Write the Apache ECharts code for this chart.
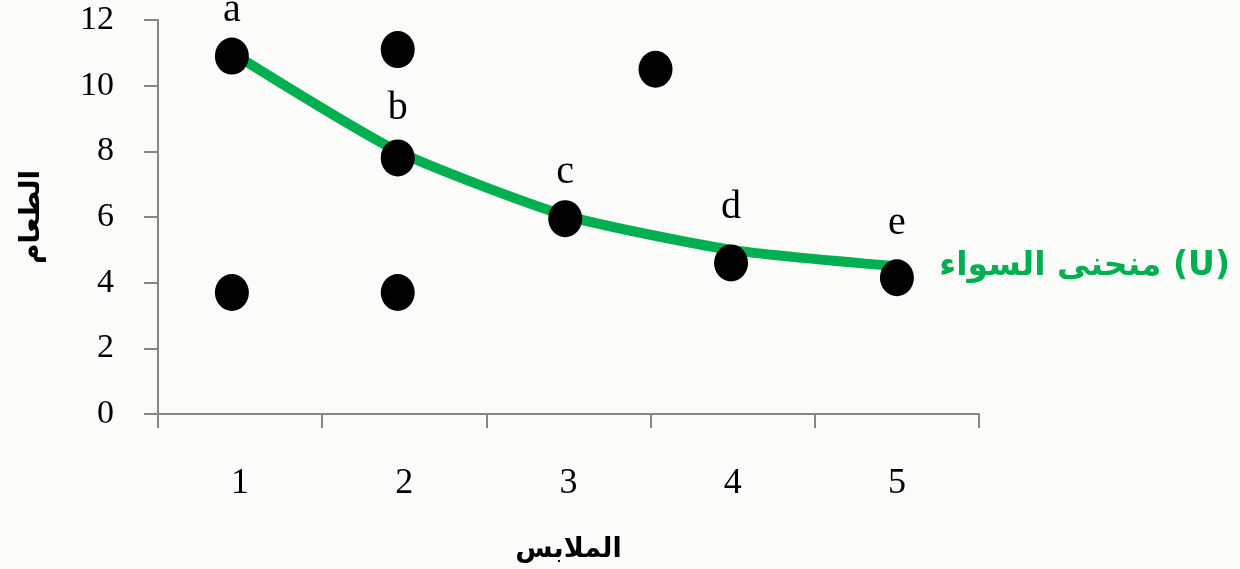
<!DOCTYPE html>
<html><head><meta charset="utf-8">
<script src="https://cdn.jsdelivr.net/npm/echarts@6/dist/echarts.min.js"></script>
<style>html,body{margin:0;padding:0;background:#fbfbfa;}#c{width:1240px;height:569px;}</style>
</head><body><div id="c"></div>
<script>
const categories = ['1','2','3','4','5'];
const yTicks = [0,2,4,6,8,10,12];
const pointX = [0.45, 1.46, 1.46, 0.45, 1.46, 2.48, 3.03, 3.49, 4.5];
const pointY = [10.9, 11.1, 7.8, 3.7, 3.7, 5.95, 10.5, 4.6, 4.15];
const curveX = [0.45, 1.46, 2.48, 3.49, 4.5];
const curveY = [11.0, 8.0, 6.05, 5.0, 4.5];
const curveLabels = ['a','b','c','d','e'];
const curveName = 'منحنى السواء (U)';
const xName = 'الملابس';
const yName = 'الطعام';

const axisColor = '#868686';
const serif = '"Liberation Serif","DejaVu Serif",serif';
const chart = echarts.init(document.getElementById('c'));
chart.setOption({
  backgroundColor: '#fbfbfa',
  animation: false,
  grid: {left: 158, right: 261, top: 20, bottom: 155},
  xAxis: [{
    type: 'value', min: 0, max: 5, interval: 1,
    axisLine: {lineStyle: {color: axisColor, width: 2}},
    axisTick: {show: true, length: 14, lineStyle: {color: axisColor, width: 2}},
    axisLabel: {show: false}, splitLine: {show: false}
  }, {
    type: 'category', data: categories, position: 'bottom', boundaryGap: true,
    axisLine: {show: false}, axisTick: {show: false},
    axisLabel: {margin: 52, fontFamily: serif, fontSize: 36, color: '#000'},
    name: xName, nameLocation: 'middle', nameGap: 122,
    nameTextStyle: {fontFamily: '"DejaVu Sans",sans-serif', fontWeight: 'bold', fontSize: 27, color: '#000'}
  }],
  yAxis: {
    type: 'value', min: 0, max: 12, interval: 2,
    axisLine: {show: true, lineStyle: {color: axisColor, width: 2}},
    axisTick: {show: true, length: 14, lineStyle: {color: axisColor, width: 2}},
    axisLabel: {margin: 44, fontFamily: serif, fontSize: 34, color: '#000',
      formatter: v => yTicks.includes(v) ? String(v) : ''},
    splitLine: {show: false},
    name: yName, nameLocation: 'middle', nameGap: 112, nameRotate: 90,
    nameTextStyle: {fontFamily: '"DejaVu Sans",sans-serif', fontWeight: 'bold', fontSize: 28, color: '#000'}
  },
  series: [{
    type: 'line', xAxisIndex: 0, smooth: 0.2, symbol: 'circle', symbolSize: 1, showSymbol: true,
    itemStyle: {color: 'rgba(0,0,0,0)'},
    lineStyle: {color: '#00b050', width: 10},
    data: curveX.map((x, i) => [x, curveY[i]]),
    label: {show: true, position: 'top', distance: 22, fontFamily: serif, fontSize: 40, color: '#000',
      formatter: p => curveLabels[p.dataIndex]},
    z: 2
  }, {
    type: 'scatter', xAxisIndex: 0, symbol: 'circle', symbolSize: [34, 37],
    itemStyle: {color: '#000', opacity: 1},
    data: pointX.map((x, i) => [x, pointY[i]]),
    z: 3
  }],
  graphic: [{
    type: 'text', right: 10, top: 250,
    style: {text: curveName, font: 'bold 33px "DejaVu Sans", sans-serif', fill: '#00b050'}
  }]
});
</script></body></html>
